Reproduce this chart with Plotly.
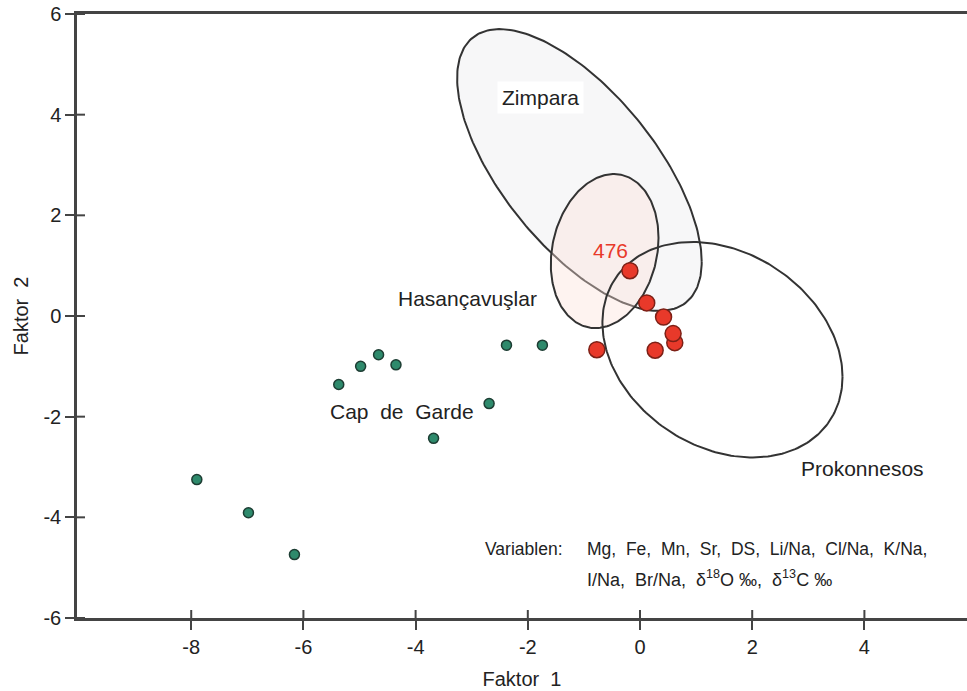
import numpy as np
import plotly.graph_objects as go

# ---------------- data ----------------
green_x = [-7.90, -6.98, -6.16, -5.37, -4.98, -4.66, -4.35, -2.38, -1.74, -2.69, -3.68]
green_y = [-3.25, -3.91, -4.74, -1.36, -1.00, -0.77, -0.97, -0.58, -0.58, -1.74, -2.43]

red_x = [-0.18, 0.12, 0.42, 0.62, 0.59, 0.27, -0.77]
red_y = [0.90, 0.26, -0.02, -0.53, -0.35, -0.68, -0.67]

ell_names = ["Zimpara", "Hasançavuşlar", "Prokonnesos"]
ell_cx = [-1.08, -0.63, 1.47]
ell_cy = [2.90, 1.29, -0.67]
ell_sx = [2.18, 0.96, 2.14]
ell_sy = [2.80, 1.53, 2.14]
ell_rho = [-0.652, 0.17, -0.252]
ell_fill = ["#f7f7f8", "rgba(253,224,216,0.38)", "rgba(0,0,0,0)"]

x_ticks = [-8, -6, -4, -2, 0, 2, 4]
y_ticks = [-6, -4, -2, 0, 2, 4, 6]

FONT = "Liberation Sans, Arial, sans-serif"
TXT = "#222222"
AX = "#444444"

W, H = 967, 691
ML, MR, MT, MB = 77, 0, 14, 73
xr = [-10.036, 5.829]
yr = [-6, 6]


def ellipse(cx, cy, sx, sy, rho, n=240):
    t = np.linspace(0, 2 * np.pi, n)
    u, v = np.cos(t), np.sin(t)
    x = cx + sx * u
    y = cy + sy * (rho * u + np.sqrt(1 - rho ** 2) * v)
    return x, y


fig = go.Figure()

for i, name in enumerate(ell_names):
    ex, ey = ellipse(ell_cx[i], ell_cy[i], ell_sx[i], ell_sy[i], ell_rho[i])
    fig.add_trace(go.Scatter(
        x=ex, y=ey, mode="lines", name=name,
        line=dict(color="#333333", width=2),
        fill="toself" if i < 2 else "none",
        fillcolor=ell_fill[i], hoverinfo="skip", showlegend=False))

fig.add_trace(go.Scatter(
    x=green_x, y=green_y, mode="markers", name="Cap de Garde",
    marker=dict(size=10, color="#2e8a6c", line=dict(color="#1d3d33", width=1.5)),
    showlegend=False))

fig.add_trace(go.Scatter(
    x=red_x, y=red_y, mode="markers", name="Proben",
    marker=dict(size=16, color="#e8392a", line=dict(color="#7d2016", width=1.5)),
    showlegend=False))

ann = [
    dict(x=-1.78, y=4.35, text="Zimpara", bgcolor="white", borderpad=4),
    dict(x=-0.53, y=1.30, text="476", color="#e8392a"),
    dict(x=-3.08, y=0.35, text="Hasançavuşlar"),
    dict(x=-4.24, y=-1.89, text="Cap&nbsp; de&nbsp; Garde"),
    dict(x=3.96, y=-3.03, text="Prokonnesos"),
]
for a in ann:
    fig.add_annotation(x=a["x"], y=a["y"], text=a["text"], showarrow=False,
                       xref="x", yref="y",
                       font=dict(family=FONT, size=21, color=a.get("color", TXT)),
                       bgcolor=a.get("bgcolor", "rgba(0,0,0,0)"),
                       borderpad=a.get("borderpad", 1))

fig.add_annotation(x=-2.80, y=-4.62, text="Variablen:", showarrow=False, xanchor="left",
                   font=dict(family=FONT, size=17.5, color=TXT))
fig.add_annotation(x=-0.98, y=-4.62, text="Mg,  Fe,  Mn,  Sr,  DS,  Li/Na,  Cl/Na,  K/Na,",
                   showarrow=False, xanchor="left", font=dict(family=FONT, size=17.5, color=TXT))
fig.add_annotation(x=-0.98, y=-5.22,
                   text="I/Na,  Br/Na,  δ<sup>18</sup>O&nbsp;‰,  δ<sup>13</sup>C&nbsp;‰",
                   showarrow=False, xanchor="left", font=dict(family=FONT, size=18, color=TXT))

# inner halves of the crossing tick marks (length 8 px converted to data units)
px_x = (xr[1] - xr[0]) / (W - ML - MR)
px_y = (yr[1] - yr[0]) / (H - MT - MB)
for v in x_ticks:
    fig.add_shape(type="line", xref="x", yref="y", x0=v, x1=v,
                  y0=yr[0], y1=yr[0] + 8 * px_y, layer="above",
                  line=dict(color=AX, width=2))
for v in y_ticks:
    fig.add_shape(type="line", xref="x", yref="y", y0=v, y1=v,
                  x0=xr[0], x1=xr[0] + 8 * px_x, layer="above",
                  line=dict(color=AX, width=2))

axis_common = dict(showgrid=False, zeroline=False, linecolor=AX, linewidth=2.5,
                   tickcolor=AX, tickwidth=2)

fig.update_layout(
    width=W, height=H,
    margin=dict(l=ML, r=MR, t=MT, b=MB),
    paper_bgcolor="white", plot_bgcolor="white",
    font=dict(family=FONT, size=20, color=TXT),
    xaxis=dict(range=xr, tickvals=x_ticks, ticktext=[str(v) for v in x_ticks],
               ticks="outside", ticklen=9, showline=True, mirror=True,
               title=dict(text="Faktor&nbsp; 1", standoff=16, font=dict(size=20)),
               tickfont=dict(size=20), **axis_common),
    yaxis=dict(range=yr, tickvals=y_ticks, ticktext=[str(v) for v in y_ticks],
               ticks="outside", ticklen=9, showline=True, mirror=False,
               title=dict(text="Faktor&nbsp; 2", standoff=10, font=dict(size=20)),
               tickfont=dict(size=20), **axis_common),
)

fig.write_html("out.html")
